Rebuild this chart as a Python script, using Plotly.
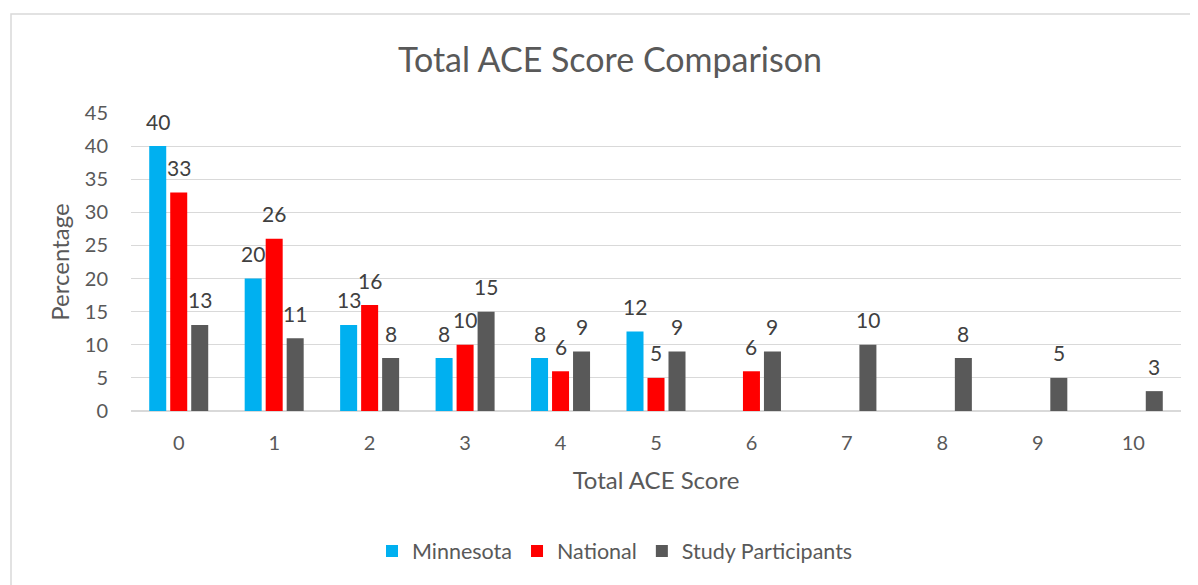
import plotly.graph_objects as go

scores = [str(i) for i in range(11)]
minnesota = [40, 20, 13, 8, 8, 12, None, None, None, None, None]
national = [33, 26, 16, 10, 6, 5, 6, None, None, None, None]
study = [13, 11, 8, 15, 9, 9, 9, 10, 8, 5, 3]

fnt = "Lato, Open Sans, sans-serif"
series = [("Minnesota", minnesota, "#00B0F0"),
          ("National", national, "#FF0000"),
          ("Study Participants", study, "#595959")]

fig = go.Figure()
for name, vals, col in series:
    fig.add_trace(go.Bar(x=scores, y=vals, name=name,
                         marker=dict(color=col, line=dict(width=0))))

# data labels, placed above each bar like Excel's "outside end"
slot = 1050 / 11 * (1 - 0.34) / 3
for k, (name, vals, col) in enumerate(series):
    for s, v in zip(scores, vals):
        if v is None:
            continue
        fig.add_annotation(x=s, y=v, text=str(v), showarrow=False,
                           xshift=(k - 1) * slot, yshift=25, yanchor="middle",
                           font=dict(size=21, color="#404040", family=fnt))

fig.update_layout(
    width=1198, height=585,
    barmode="group", bargap=0.34, bargroupgap=0.19,
    plot_bgcolor="white", paper_bgcolor="white",
    margin=dict(l=123, r=25, t=105, b=182, autoexpand=False),
    font=dict(family=fnt, color="#595959"),
    title=dict(text="Total ACE Score Comparison", x=602/1198, xanchor="center",
               y=1 - 52/585, yanchor="middle",
               font=dict(size=34, color="#595959", family=fnt)),
    xaxis=dict(title=dict(text="Total ACE Score", font=dict(size=24), standoff=19),
               tickfont=dict(size=20), showline=True, linecolor="#d9d9d9",
               ticks="", showgrid=False, ticklabelstandoff=14),
    yaxis=dict(title=dict(text="Percentage", font=dict(size=24), standoff=8),
               range=[0, 45], dtick=5, tickfont=dict(size=20),
               gridcolor="#d9d9d9", zeroline=True, zerolinecolor="#d9d9d9",
               ticks="", showline=False, ticklabelstandoff=22),
    legend=dict(orientation="h", x=(607 - 123) / 1050, xanchor="center",
                y=-0.47, yanchor="middle",
                font=dict(size=21.5, color="#595959")),
    shapes=[dict(type="rect", xref="paper", yref="paper",
                 x0=(3 - 123) / 1050, x1=(1220 - 123) / 1050,
                 y0=(403 - 600) / 298, y1=(403 - 6) / 298,
                 line=dict(color="#d9d9d9", width=1.5), layer="below")],
)

fig.write_html("out.html")
